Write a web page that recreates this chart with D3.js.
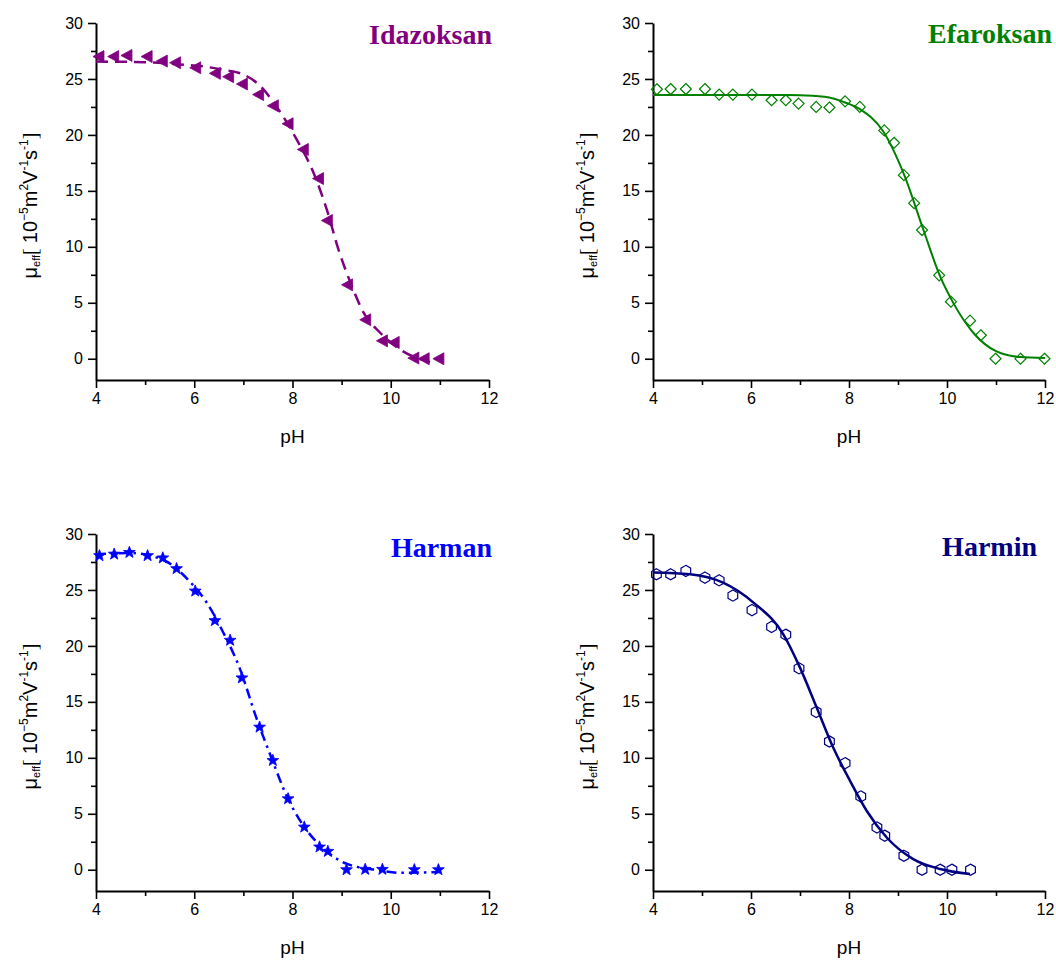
<!DOCTYPE html>
<html>
<head>
<meta charset="utf-8">
<script src="https://cdn.jsdelivr.net/npm/d3@7"></script>
<style>
  html, body { margin: 0; padding: 0; background: #fff; }
  svg { display: block; }
</style>
</head>
<body>
<svg id="chart" width="1056" height="960"></svg>
<script>
// ---------- DATA ----------
const xTicksMajor = [4, 6, 8, 10, 12];
const xTicksMinor = [5, 7, 9, 11];
const yTicksMajor = [0, 5, 10, 15, 20, 25, 30];
const yTicksMinor = [2.5, 7.5, 12.5, 17.5, 22.5, 27.5];

const titles = ["Idazoksan", "Efaroksan", "Harman", "Harmin"];
const colors = ["#800080", "#008000", "#0000ff", "#000080"];

// measured points [pH, mobility]
const idazoksanPts = [[4.05,27.0],[4.35,27.0],[4.62,27.1],[5.03,27.0],[5.34,26.6],[5.61,26.45],[6.02,26.0],[6.42,25.5],[6.69,25.2],[6.97,24.55],[7.3,23.6],[7.6,22.6],[7.9,21.0],[8.21,18.7],[8.52,16.1],[8.7,12.35],[9.11,6.6],[9.48,3.48],[9.82,1.6],[10.06,1.46],[10.46,0.06],[10.67,0],[10.97,0]];
const efaroksanPts = [[4.08,24.08],[4.36,24.1],[4.67,24.1],[5.06,24.1],[5.35,23.6],[5.63,23.6],[6.02,23.6],[6.42,23.1],[6.71,23.1],[6.97,22.8],[7.33,22.5],[7.6,22.45],[7.92,23.0],[8.22,22.5],[8.72,20.4],[8.92,19.3],[9.12,16.4],[9.33,13.9],[9.49,11.5],[9.84,7.45],[10.08,5.1],[10.47,3.4],[10.69,2.1],[10.99,0],[11.5,0],[11.99,0]];
const harmanPts = [[4.07,28.06],[4.37,28.2],[4.68,28.35],[5.05,28.06],[5.36,27.86],[5.64,26.9],[6.02,24.9],[6.42,22.26],[6.73,20.5],[6.97,17.14],[7.33,12.74],[7.6,9.76],[7.91,6.34],[8.24,3.81],[8.55,2.03],[8.72,1.64],[9.1,0],[9.48,0.03],[9.83,0.03],[10.48,0],[10.97,0]];
const harminPts = [[4.07,26.4],[4.36,26.4],[4.67,26.7],[5.06,26.1],[5.35,25.86],[5.63,24.5],[6.02,23.2],[6.42,21.7],[6.71,21.0],[6.98,18.0],[7.33,14.1],[7.6,11.46],[7.92,9.52],[8.24,6.55],[8.57,3.78],[8.73,3.04],[9.12,1.25],[9.49,0],[9.86,0],[10.1,0],[10.48,0]];

// fitted curves [pH, mobility]
const idazoksanFit = [[4.0,26.55],[5.0,26.5],[5.69,26.3],[6.12,26.16],[6.53,25.86],[7.0,25.4],[7.36,24.3],[7.68,22.5],[8.09,19.55],[8.43,16.6],[8.7,13.3],[8.94,9.7],[9.18,6.8],[9.45,4.1],[9.79,2.3],[10.2,0.8],[10.8,-0.3]];
const efaroksanFit = [[4.0,23.57],[5.0,23.57],[6.0,23.57],[7.0,23.55],[7.5,23.4],[7.92,22.9],[8.22,22.3],[8.7,20.3],[9.11,16.6],[9.52,11.5],[9.86,7.35],[10.13,4.97],[10.54,2.3],[11.01,0.65],[11.49,0.15],[12.0,0.06]];
const harmanFit = [[4.0,28.2],[4.68,28.3],[5.36,27.7],[5.92,25.7],[6.25,23.9],[6.59,21.2],[6.93,17.95],[7.27,13.5],[7.58,9.9],[7.88,6.6],[8.22,3.95],[8.56,2.17],[9.1,0.54],[9.78,-0.06],[10.19,-0.27],[11.0,-0.2]];
const harminFit = [[4.0,26.55],[4.76,26.4],[5.43,25.65],[6.05,23.87],[6.66,21.04],[7.0,18.06],[7.34,14.5],[7.68,10.9],[8.02,7.95],[8.36,5.27],[8.77,2.88],[9.31,0.95],[9.86,0.06],[10.47,-0.39]];

const pointsList = [idazoksanPts, efaroksanPts, harmanPts, harminPts];
const fitList = [idazoksanFit, efaroksanFit, harmanFit, harminFit];

// ---------- LAYOUT ----------
const panels = [
  {x0: 96,  x1: 489,  yTop: 23,  yBot: 380, titleX: 492,  titleY: 44, dash: "12,7",        lw: 2.5, sym: "triL"},
  {x0: 653, x1: 1045, yTop: 23,  yBot: 380, titleX: 1052, titleY: 43, dash: null,          lw: 2,   sym: "diamond"},
  {x0: 96,  x1: 489,  yTop: 534, yBot: 891, titleX: 492,  titleY: 557, dash: "10,5,2.5,5", lw: 2.5, sym: "star"},
  {x0: 653, x1: 1045, yTop: 534, yBot: 891, titleX: 1037, titleY: 556, dash: null,         lw: 2.5, sym: "hex"}
];

const svg = d3.select("#chart");

function symbolPath(kind) {
  if (kind === "triL") return "M-5.5,0L5.5,-6L5.5,6Z";
  if (kind === "diamond") return "M0,-5.5L5.5,0L0,5.5L-5.5,0Z";
  if (kind === "star") {
    let p = [];
    for (let i = 0; i < 10; i++) {
      const r = i % 2 === 0 ? 6.2 : 2.6;
      const a = -Math.PI / 2 + i * Math.PI / 5;
      p.push([r * Math.cos(a), r * Math.sin(a)]);
    }
    return "M" + p.map(d => d[0].toFixed(2) + "," + d[1].toFixed(2)).join("L") + "Z";
  }
  if (kind === "hex") {
    let p = [];
    for (let i = 0; i < 6; i++) {
      const a = -Math.PI / 2 + i * Math.PI / 3;
      p.push([5.6 * Math.cos(a), 5.6 * Math.sin(a)]);
    }
    return "M" + p.map(d => d[0].toFixed(2) + "," + d[1].toFixed(2)).join("L") + "Z";
  }
}

panels.forEach((P, i) => {
  const x = d3.scaleLinear().domain([4, 12]).range([P.x0, P.x1]);
  const y = d3.scaleLinear().domain([-1.9, 30]).range([P.yBot, P.yTop]);
  const g = svg.append("g");
  const col = colors[i];

  // axes
  const axFont = "'Liberation Sans', Arial, sans-serif";
  const xAxis = g.append("g").attr("transform", `translate(0,${P.yBot})`)
    .call(d3.axisBottom(x).tickValues(xTicksMajor).tickSize(8).tickSizeOuter(0).tickPadding(5).tickFormat(d3.format("d")));
  const xAxisMinor = g.append("g").attr("transform", `translate(0,${P.yBot})`)
    .call(d3.axisBottom(x).tickValues(xTicksMinor).tickSize(5).tickSizeOuter(0).tickFormat(""));
  const yAxis = g.append("g").attr("transform", `translate(${P.x0},0)`)
    .call(d3.axisLeft(y).tickValues(yTicksMajor).tickSize(8).tickSizeOuter(0).tickPadding(5).tickFormat(d3.format("d")));
  const yAxisMinor = g.append("g").attr("transform", `translate(${P.x0},0)`)
    .call(d3.axisLeft(y).tickValues(yTicksMinor).tickSize(5).tickSizeOuter(0).tickFormat(""));
  [xAxis, xAxisMinor, yAxis, yAxisMinor].forEach(a => {
    a.selectAll(".domain").attr("stroke", "#000").attr("stroke-width", 2);
    a.selectAll(".tick line").attr("stroke", "#000").attr("stroke-width", 1.6);
    a.selectAll(".tick text").attr("font-family", axFont).attr("font-size", 16).attr("fill", "#000");
  });
  xAxisMinor.select(".domain").remove();
  yAxisMinor.select(".domain").remove();

  // axis titles
  g.append("text")
    .attr("x", (P.x0 + P.x1) / 2).attr("y", P.yBot + 63)
    .attr("text-anchor", "middle").attr("font-family", axFont).attr("font-size", 19)
    .text("pH");

  const yl = g.append("text")
    .attr("transform", `translate(${P.x0 - 59},${(P.yTop + P.yBot) / 2 + 4}) rotate(-90)`)
    .attr("text-anchor", "middle").attr("font-family", axFont).attr("font-size", 20);
  const sup = 12;
  yl.append("tspan").text("μ");
  yl.append("tspan").attr("font-size", 11).attr("dy", 3).text("eff");
  yl.append("tspan").attr("dy", -3).attr("font-family", "'Liberation Serif', serif").text("[ ");
  yl.append("tspan").text("10");
  yl.append("tspan").attr("font-size", sup).attr("dy", -9).text("−5");
  yl.append("tspan").attr("dy", 9).text("m");
  yl.append("tspan").attr("font-size", sup).attr("dy", -9).text("2");
  yl.append("tspan").attr("dy", 9).text("V");
  yl.append("tspan").attr("font-size", sup).attr("dy", -9).text("-1");
  yl.append("tspan").attr("dy", 9).text("s");
  yl.append("tspan").attr("font-size", sup).attr("dy", -9).text("-1");
  yl.append("tspan").attr("dy", 9).attr("font-family", "'Liberation Serif', serif").text("]");

  // fit line
  const line = d3.line().x(d => x(d[0])).y(d => y(d[1])).curve(d3.curveMonotoneX);
  g.append("path").datum(fitList[i])
    .attr("d", line).attr("fill", "none").attr("stroke", col)
    .attr("stroke-width", P.lw)
    .attr("stroke-dasharray", P.dash);

  // points
  const filled = (P.sym === "triL" || P.sym === "star");
  g.selectAll("path.pt").data(pointsList[i]).enter().append("path")
    .attr("class", "pt")
    .attr("transform", d => `translate(${x(d[0])},${y(d[1])})`)
    .attr("d", symbolPath(P.sym))
    .attr("fill", filled ? col : "none")
    .attr("stroke", col)
    .attr("stroke-width", filled ? 0.8 : 1.2);

  // title
  g.append("text")
    .attr("x", P.titleX).attr("y", P.titleY)
    .attr("text-anchor", "end")
    .attr("font-family", "'Liberation Serif', 'Times New Roman', serif")
    .attr("font-weight", "bold").attr("font-size", 28)
    .attr("fill", col)
    .text(titles[i]);
});
</script>
</body>
</html>
